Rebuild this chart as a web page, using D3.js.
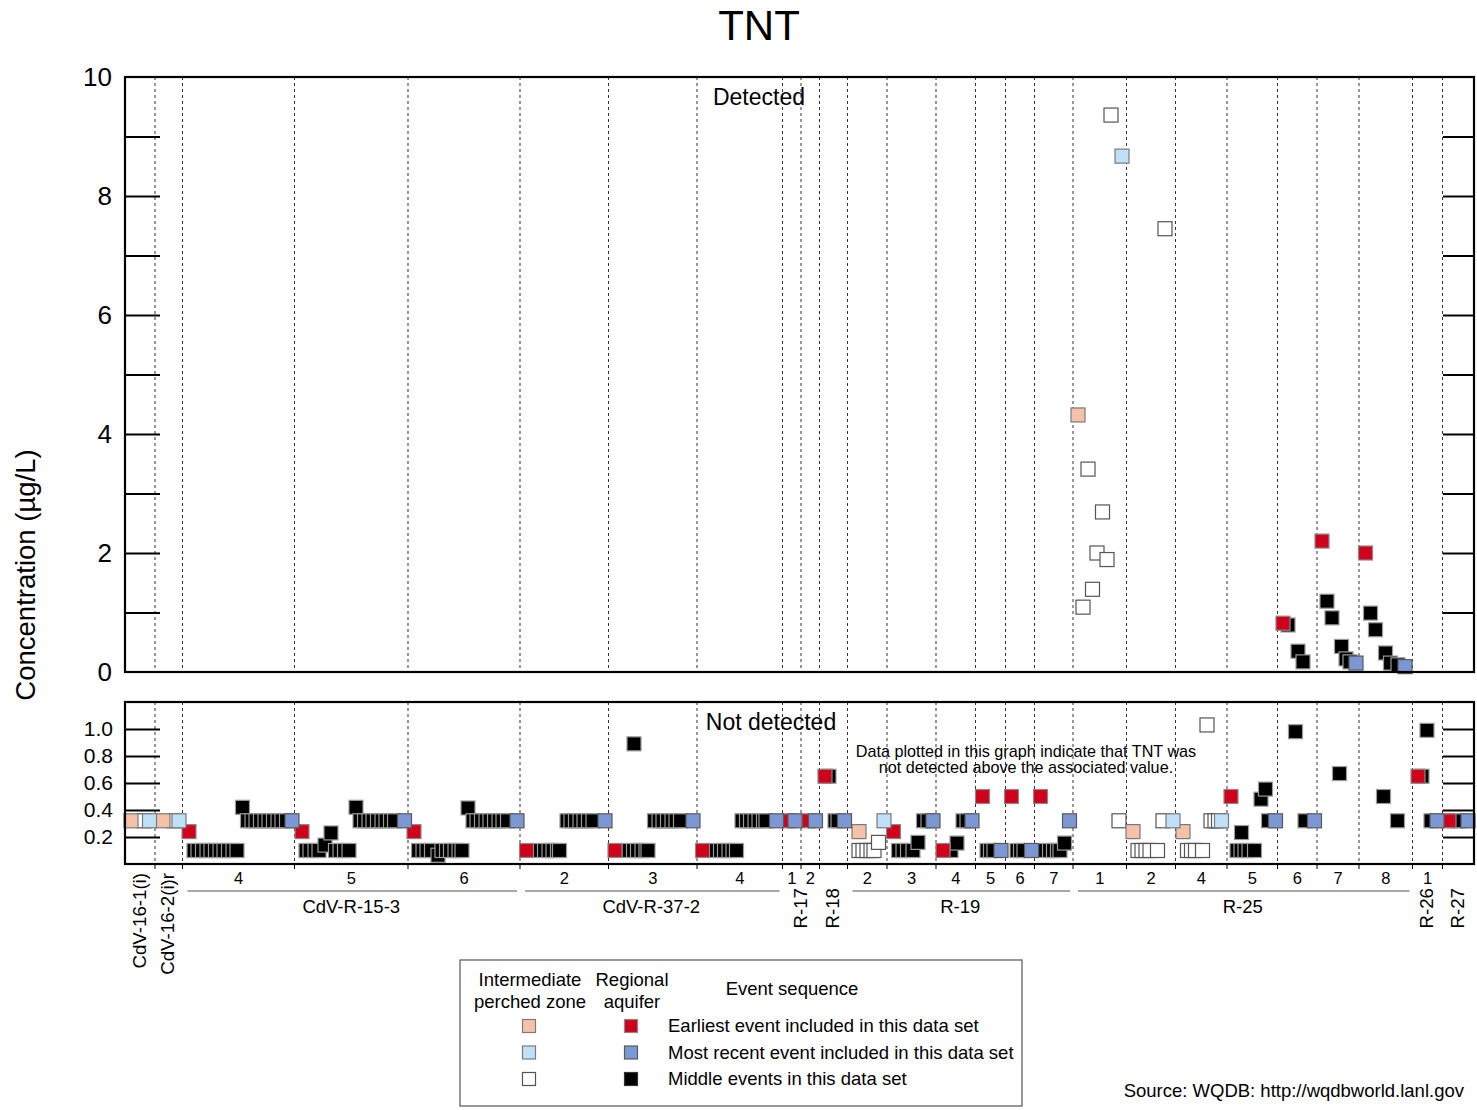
<!DOCTYPE html>
<html><head><meta charset="utf-8">
<script src="https://cdn.jsdelivr.net/npm/d3@7"></script>
<style>body{margin:0;background:#fff} text{font-family:"Liberation Sans",Arial,sans-serif;fill:#000}</style>
</head><body><svg id="c" width="1477" height="1110"></svg>
<script>
// ---------- DATA ----------
const wells = ['CdV-16-1(i)','CdV-16-2(i)r','CdV-R-15-3','CdV-R-37-2','R-17','R-18','R-19','R-25','R-26','R-27'];
const wellScreens = [[''],[''],['4','5','6'],['2','3','4'],['1','2'],[''],['2','3','4','5','6','7'],['1','2','4','5','6','7','8'],['1'],['']];
// sample-sequence boundaries between well screens
const screenBounds = [0,3.0,5.75,16.95,28.3,39.5,48.35,57.2,65.75,67.6,69.45,72.25,76.2,81.1,85.05,88.05,90.95,94.8,100.15,105.05,110.2,115.25,119.2,123.4,128.75,131.75,134.9];
const topTicks = [0,2,4,6,8,10];
const topMinor = [1,2,3,4,5,6,7,8,9];
const botTicks = [0.2,0.4,0.6,0.8,1.0];
// type codes: p = intermediate perched, r = regional; e = earliest, r = most recent, m = middle
const detected = [
 [95.3,4.32,'pe'],[95.8,1.09,'pm'],[96.3,3.41,'pm'],[96.75,1.39,'pm'],[97.2,2.00,'pm'],[97.75,2.69,'pm'],[98.2,1.89,'pm'],[98.6,9.36,'pm'],[99.7,8.67,'pr'],
 [104.0,7.45,'pm'],
 [115.8,0.82,'re'],[116.3,0.79,'rm'],[117.3,0.35,'rm'],[117.8,0.17,'rm'],
 [119.7,2.20,'re'],[120.2,1.19,'rm'],[120.7,0.91,'rm'],[121.65,0.43,'rm'],[122.1,0.22,'rm'],[122.5,0.17,'rm'],[123.1,0.15,'rr'],
 [124.05,2.00,'re'],[124.55,0.99,'rm'],[125.05,0.71,'rm'],[126.05,0.32,'rm'],[126.55,0.15,'rm'],[127.3,0.12,'rm'],[128.0,0.09,'rr']
];
const notDetected = [
 [0.6,0.32,'pe'],[1.9,0.32,'pm'],[2.45,0.32,'pr'],
 [3.8,0.32,'pe'],[4.9,0.32,'pm'],[5.4,0.32,'pr'],
 [6.4,0.24,'re'],[6.9,0.1,'rm'],[7.3,0.1,'rm'],[7.75,0.1,'rm'],[8.2,0.1,'rm'],[8.6,0.1,'rm'],[9.05,0.1,'rm'],[9.5,0.1,'rm'],[9.9,0.1,'rm'],[10.35,0.1,'rm'],[10.8,0.1,'rm'],[11.2,0.1,'rm'],
 [11.75,0.42,'rm'],[12.25,0.32,'rm'],[12.7,0.32,'rm'],[13.1,0.32,'rm'],[13.55,0.32,'rm'],[14.0,0.32,'rm'],[14.4,0.32,'rm'],[14.85,0.32,'rm'],[15.3,0.32,'rm'],[15.7,0.32,'rm'],[16.15,0.32,'rm'],[16.7,0.32,'rr'],
 [17.7,0.24,'re'],[18.1,0.1,'rm'],[18.5,0.1,'rm'],[19.0,0.1,'rm'],[19.4,0.1,'rm'],[20.0,0.14,'rm'],[20.6,0.23,'rm'],[21.05,0.1,'rm'],[21.5,0.1,'rm'],[21.95,0.1,'rm'],[22.4,0.1,'rm'],
 [23.1,0.42,'rm'],[23.5,0.32,'rm'],[23.95,0.32,'rm'],[24.4,0.32,'rm'],[24.8,0.32,'rm'],[25.25,0.32,'rm'],[25.7,0.32,'rm'],[26.1,0.32,'rm'],[26.55,0.32,'rm'],[26.95,0.32,'rm'],[27.95,0.32,'rr'],
 [28.9,0.24,'re'],[29.35,0.1,'rm'],[29.8,0.1,'rm'],[30.2,0.1,'rm'],[30.65,0.1,'rm'],[31.3,0.065,'rm'],[31.7,0.1,'rm'],[32.15,0.1,'rm'],[32.55,0.1,'rm'],[33.0,0.1,'rm'],[33.4,0.1,'rm'],[33.7,0.1,'rm'],
 [34.3,0.415,'rm'],[34.8,0.32,'rm'],[35.2,0.32,'rm'],[35.65,0.32,'rm'],[36.1,0.32,'rm'],[36.5,0.32,'rm'],[36.95,0.32,'rm'],[37.4,0.32,'rm'],[37.8,0.32,'rm'],[38.25,0.32,'rm'],[39.2,0.32,'rr'],
 [40.15,0.1,'re'],[41.5,0.1,'rm'],[41.95,0.1,'rm'],[42.4,0.1,'rm'],[42.8,0.1,'rm'],[43.25,0.1,'rm'],[43.45,0.1,'rm'],
 [44.2,0.32,'rm'],[44.6,0.32,'rm'],[45.05,0.32,'rm'],[45.5,0.32,'rm'],[45.9,0.32,'rm'],[46.35,0.32,'rm'],[46.8,0.32,'rm'],[48.0,0.32,'rr'],
 [49.0,0.1,'re'],[50.4,0.1,'rm'],[50.85,0.1,'rm'],[51.25,0.1,'rm'],[51.7,0.1,'rm'],[52.1,0.1,'rm'],[52.3,0.1,'rm'],[50.9,0.89,'rm'],
 [52.95,0.32,'rm'],[53.4,0.32,'rm'],[53.8,0.32,'rm'],[54.25,0.32,'rm'],[54.7,0.32,'rm'],[55.1,0.32,'rm'],[55.55,0.32,'rm'],[56.8,0.32,'rr'],
 [57.75,0.1,'re'],[59.1,0.1,'rm'],[59.55,0.1,'rm'],[59.95,0.1,'rm'],[60.4,0.1,'rm'],[60.8,0.1,'rm'],[61.15,0.1,'rm'],
 [61.7,0.32,'rm'],[62.15,0.32,'rm'],[62.55,0.32,'rm'],[63.0,0.32,'rm'],[63.4,0.32,'rm'],[63.85,0.32,'rm'],[64.1,0.32,'rm'],[65.15,0.32,'rr'],
 [66.4,0.32,'re'],[67.0,0.32,'rr'],
 [68.4,0.32,'re'],[69.05,0.32,'rr'],
 [70.0,0.65,'re'],[70.4,0.65,'rm'],[71.0,0.32,'rm'],[71.3,0.32,'rm'],[71.95,0.32,'rr'],
 [73.4,0.24,'pe'],[73.4,0.1,'pm'],[73.8,0.1,'pm'],[74.2,0.1,'pm'],[74.6,0.1,'pm'],[74.9,0.1,'pm'],[75.35,0.16,'pm'],[75.9,0.32,'pr'],
 [76.85,0.24,'re'],[77.35,0.1,'rm'],[77.8,0.1,'rm'],[78.25,0.1,'rm'],[78.8,0.1,'rm'],[79.3,0.16,'rm'],[79.85,0.32,'rm'],[80.3,0.32,'rm'],[80.8,0.32,'rr'],
 [81.8,0.1,'re'],[82.6,0.1,'rm'],[83.2,0.155,'rm'],[83.8,0.32,'rm'],[84.2,0.32,'rm'],[84.7,0.32,'rr'],
 [85.75,0.5,'re'],[86.2,0.1,'rm'],[86.55,0.1,'rm'],[86.9,0.1,'rm'],[87.6,0.1,'rr'],
 [88.65,0.5,'re'],[89.2,0.1,'rm'],[89.55,0.1,'rm'],[89.9,0.1,'rm'],[90.65,0.1,'rr'],
 [91.55,0.5,'re'],[92.05,0.1,'rm'],[92.45,0.1,'rm'],[92.85,0.1,'rm'],[93.25,0.1,'rm'],[93.5,0.1,'rm'],[93.95,0.155,'rm'],[94.45,0.32,'rr'],
 [99.4,0.32,'pm'],
 [100.8,0.24,'pe'],[101.3,0.1,'pm'],[101.7,0.1,'pm'],[102.1,0.1,'pm'],[102.5,0.1,'pm'],[103.25,0.1,'pm'],[103.8,0.32,'pm'],[104.8,0.32,'pr'],
 [105.8,0.24,'pe'],[106.25,0.1,'pm'],[106.65,0.1,'pm'],[107.05,0.1,'pm'],[107.75,0.1,'pm'],[108.2,1.03,'pm'],[108.6,0.32,'pm'],[109.0,0.32,'pm'],[109.35,0.32,'pm'],[109.65,0.32,'pr'],
 [110.6,0.5,'re'],[111.2,0.1,'rm'],[111.6,0.1,'rm'],[112.0,0.1,'rm'],[112.4,0.1,'rm'],[112.95,0.1,'rm'],[111.65,0.233,'rm'],[113.6,0.48,'rm'],[114.05,0.555,'rm'],[114.35,0.32,'rm'],[115.05,0.32,'rr'],
 [117.05,0.98,'rm'],[118.0,0.32,'rm'],[118.95,0.32,'rr'],
 [121.45,0.67,'rm'],
 [125.85,0.5,'rm'],[127.25,0.32,'rm'],
 [129.3,0.65,'re'],[129.7,0.65,'rm'],[130.2,0.99,'rm'],[130.6,0.32,'rm'],[131.2,0.32,'rr'],
 [132.4,0.32,'re'],[133.0,0.32,'rm'],[133.4,0.32,'rm'],[134.3,0.32,'rr']
];
const legendRows = ['Earliest event included in this data set','Most recent event included in this data set','Middle events in this data set'];

// ---------- STYLE ----------
const FILL = {pe:'#F4C2A9', pr:'#BFE0F7', pm:'#ffffff', re:'#D0011B', rr:'#7B98D5', rm:'#000000'};
const STROKE = {pe:'#7a7a7a', pr:'#7a7a7a', pm:'#555', re:'#8a8a8a', rr:'#5a5a5a', rm:'#9a9a9a'};
const ORDER = {m:0, e:1, r:2};
const SQ = 14;

const svg = d3.select('#c');
const x = d3.scaleLinear().domain([0,134.9]).range([125,1474]);
const yTop = d3.scaleLinear().domain([0,10]).range([672,77]);
const yBot = d3.scaleLinear().domain([0,1.2]).range([864,702]);

// segments
const segs = [];
wells.forEach((w,i)=>wellScreens[i].forEach(s=>segs.push({well:w, wi:i, screen:s})));
segs.forEach((s,k)=>{s.x0=screenBounds[k]; s.x1=screenBounds[k+1];});
const dividers = screenBounds.slice(1,-1);

// Title
svg.append('text').attr('x',759).attr('y',40).attr('text-anchor','middle').style('font-size','42px').text('TNT');

function drawPanel(yA, yB){
  svg.append('g').selectAll('line').data(dividers).join('line')
    .attr('x1',d=>x(d)).attr('x2',d=>x(d)).attr('y1',yA).attr('y2',yB)
    .attr('stroke','#333').attr('stroke-width',1).attr('stroke-dasharray','3,3');
}
drawPanel(77,672);
drawPanel(702,864);

// axes: top
const tl = svg.append('g').attr('transform','translate(125,0)')
  .call(d3.axisRight(yTop).tickValues(topMinor).tickSize(35).tickFormat(''));
const tr = svg.append('g').attr('transform','translate(1474,0)')
  .call(d3.axisLeft(yTop).tickValues(topMinor).tickSize(31).tickFormat(''));
const tlab = svg.append('g').attr('transform','translate(125,0)')
  .call(d3.axisLeft(yTop).tickValues(topTicks).tickSize(0).tickPadding(13).tickFormat(d3.format('d')));
tlab.selectAll('text').style('font-size','26px').attr('font-family',null);
// axes: bottom
const bl = svg.append('g').attr('transform','translate(125,0)')
  .call(d3.axisRight(yBot).tickValues(botTicks).tickSize(35).tickFormat(''));
const br = svg.append('g').attr('transform','translate(1474,0)')
  .call(d3.axisLeft(yBot).tickValues(botTicks).tickSize(31).tickFormat(''));
const blab = svg.append('g').attr('transform','translate(125,0)')
  .call(d3.axisLeft(yBot).tickValues(botTicks).tickSize(0).tickPadding(12).tickFormat(d3.format('.1f')));
blab.selectAll('text').style('font-size','21px').attr('font-family',null);
[tl,tr,tlab,bl,br,blab].forEach(g=>{g.select('.domain').remove(); g.selectAll('line').attr('stroke','#000').attr('stroke-width',2);});

// small ticks below lower frame
svg.append('g').selectAll('line').data(dividers).join('line')
  .attr('x1',d=>x(d)).attr('x2',d=>x(d)).attr('y1',864).attr('y2',869).attr('stroke','#000');

// panel texts
svg.append('text').attr('x',759).attr('y',105).attr('text-anchor','middle').style('font-size','23px').text('Detected');
svg.append('text').attr('x',771).attr('y',730).attr('text-anchor','middle').style('font-size','23px').text('Not detected');
svg.append('text').attr('x',1026).attr('y',757).attr('text-anchor','middle').style('font-size','16.2px').text('Data plotted in this graph indicate that TNT was');
svg.append('text').attr('x',1026).attr('y',773).attr('text-anchor','middle').style('font-size','16.2px').text('not detected above the associated value.');

// points
function drawPoints(data, y){
  const d2 = data.map((d,i)=>({x:d[0], v:d[1], t:d[2], i}))
    .sort((a,b)=>(ORDER[a.t[1]]-ORDER[b.t[1]]) || (a.i-b.i));
  svg.append('g').selectAll('rect').data(d2).join('rect')
    .attr('x',d=>x(d.x)-SQ/2).attr('y',d=>y(d.v)-SQ/2)
    .attr('width',SQ).attr('height',SQ)
    .attr('fill',d=>FILL[d.t]).attr('stroke',d=>STROKE[d.t]).attr('stroke-width',1.2);
}
drawPoints(detected, yTop);
drawPoints(notDetected, yBot);

// frames
svg.append('rect').attr('x',125).attr('y',77).attr('width',1349).attr('height',595).attr('fill','none').attr('stroke','#000').attr('stroke-width',2.2);
svg.append('rect').attr('x',125).attr('y',702).attr('width',1349).attr('height',162).attr('fill','none').attr('stroke','#000').attr('stroke-width',2.2);

// y label
svg.append('text').attr('transform','translate(35,575) rotate(-90)').attr('text-anchor','middle').style('font-size','27.5px').text('Concentration (µg/L)');

// x labels
segs.forEach(s=>{
  if(s.screen) svg.append('text').attr('x',x((s.x0+s.x1)/2)).attr('y',884).attr('text-anchor','middle').style('font-size','16.5px').text(s.screen);
});
wells.forEach((w,i)=>{
  const ss = segs.filter(s=>s.wi===i);
  const a = ss[0].x0, b = ss[ss.length-1].x1, cx = x((a+b)/2);
  if(ss.length>=3){
    svg.append('line').attr('x1',x(a)+5).attr('x2',x(b)-3).attr('y1',891).attr('y2',891).attr('stroke','#8a8a8a').attr('stroke-width',1.6);
    svg.append('text').attr('x',cx).attr('y',913).attr('text-anchor','middle').style('font-size','18.5px').text(w);
  } else {
    const top = w.startsWith('CdV') ? 873 : 888;
    svg.append('text').attr('transform',`translate(${cx+5.5},${top}) rotate(-90)`).attr('text-anchor','end').style('font-size','18.7px').text(w);
  }
});

// legend
const L = svg.append('g');
L.append('rect').attr('x',460).attr('y',960).attr('width',562).attr('height',146).attr('fill','#fff').attr('stroke','#555').attr('stroke-width',1.2);
[['Intermediate',530,986],['perched zone',530,1008],['Regional',632,986],['aquifer',632,1008],['Event sequence',792,995]]
  .forEach(t=>L.append('text').attr('x',t[1]).attr('y',t[2]).attr('text-anchor','middle').style('font-size','18.5px').text(t[0]));
const codes = [['pe','re'],['pr','rr'],['pm','rm']];
legendRows.forEach((lab,r)=>{
  const cy = 1026 + r*26.5;
  codes[r].forEach((c,j)=>{
    L.append('rect').attr('x',(j?631:529)-6.5).attr('y',cy-6.5).attr('width',13).attr('height',13)
      .attr('fill',FILL[c]).attr('stroke',c==='rm'?'#333':STROKE[c]).attr('stroke-width',1.2);
  });
  L.append('text').attr('x',668).attr('y',cy+6).style('font-size','18.5px').text(lab);
});

// source
svg.append('text').attr('x',1464).attr('y',1097).attr('text-anchor','end').style('font-size','18.5px').text('Source: WQDB: http://wqdbworld.lanl.gov');
</script>
</body></html>
